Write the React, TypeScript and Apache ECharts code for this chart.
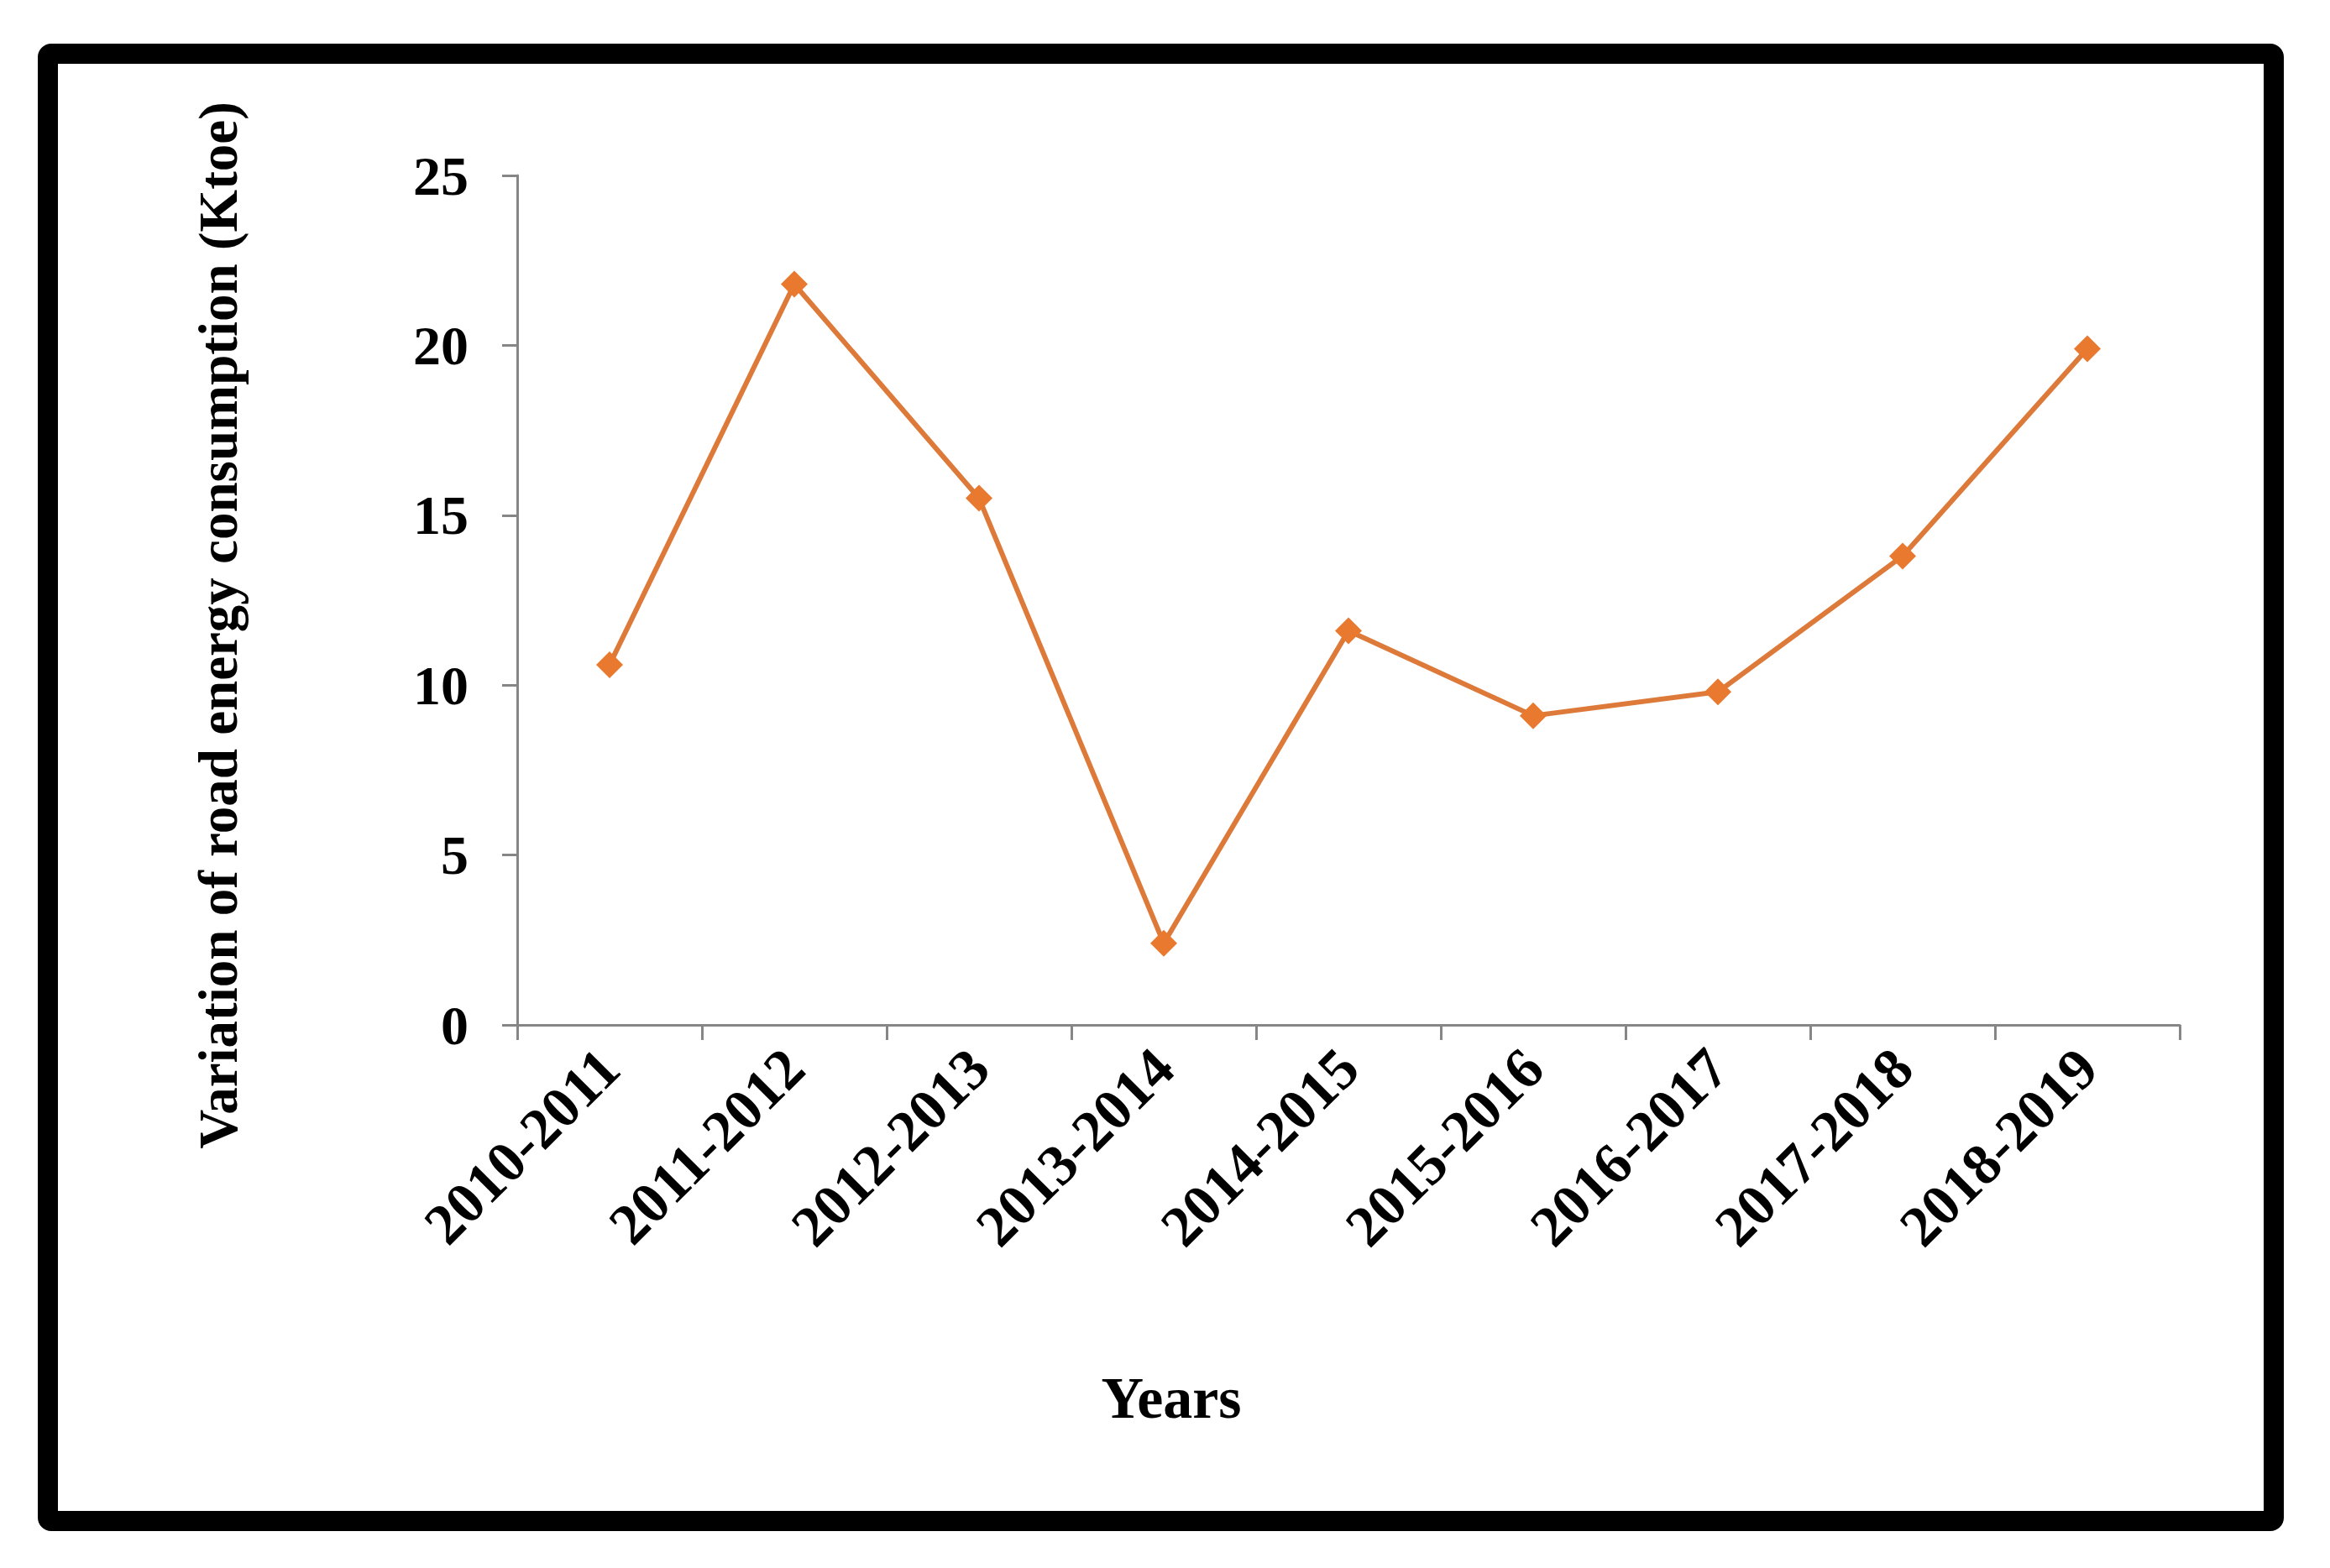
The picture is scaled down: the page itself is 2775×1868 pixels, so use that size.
import React, { useEffect, useRef } from "react";
import * as echarts from "echarts";

const categories = [
  "2010-2011",
  "2011-2012",
  "2012-2013",
  "2013-2014",
  "2014-2015",
  "2015-2016",
  "2016-2017",
  "2017-2018",
  "2018-2019",
];
const values = [10.6, 21.8, 15.5, 2.4, 11.6, 9.1, 9.8, 13.8, 19.9];
const yTitle = "Variation of road energy consumption (Ktoe)";
const xTitle = "Years";

const W = 2775;
const H = 1868;
const FONT = "'Liberation Serif', 'Times New Roman', serif";

export default function App() {
  const ref = useRef<HTMLDivElement>(null);
  useEffect(() => {
    if (!ref.current) return;
    const chart = echarts.init(ref.current, null, { renderer: "svg" });
    chart.setOption({
      animation: false,
      backgroundColor: "#ffffff",
      grid: { left: 616, right: 179, top: 209, bottom: 647, containLabel: false },
      xAxis: {
        type: "category",
        data: categories,
        boundaryGap: true,
        axisLine: { show: true, lineStyle: { color: "#868686", width: 3 } },
        axisTick: { show: true, alignWithLabel: false, length: 18, lineStyle: { color: "#868686", width: 3 } },
        axisLabel: {
          rotate: 45,
          margin: 40,
          color: "#000",
          fontFamily: FONT,
          fontWeight: "bold",
          fontSize: 69,
          interval: 0,
        },
        splitLine: { show: false },
      },
      yAxis: {
        type: "value",
        min: 0,
        max: 25,
        interval: 5,
        axisLine: { show: true, lineStyle: { color: "#868686", width: 3 } },
        axisTick: { show: true, length: 18, lineStyle: { color: "#868686", width: 3 } },
        axisLabel: {
          margin: 58,
          color: "#000",
          fontFamily: FONT,
          fontWeight: "bold",
          fontSize: 66,
        },
        splitLine: { show: false },
      },
      graphic: [
        {
          type: "rect",
          shape: { x: 57, y: 64, width: 2651, height: 1748, r: 4 },
          style: { fill: "none", stroke: "#000", lineWidth: 24 },
          silent: true,
        },
        {
          type: "text",
          x: 260,
          y: 745,
          rotation: Math.PI / 2,
          style: {
            text: yTitle,
            fill: "#000",
            font: `bold 65px ${FONT}`,
            textAlign: "center",
            textVerticalAlign: "middle",
          },
        },
        {
          type: "text",
          x: 1395,
          y: 1665,
          style: {
            text: xTitle,
            fill: "#000",
            font: `bold 70px ${FONT}`,
            textAlign: "center",
            textVerticalAlign: "middle",
          },
        },
      ],
      series: [
        {
          type: "line",
          data: values,
          symbol: "diamond",
          symbolSize: 32,
          lineStyle: { color: "#DD7A3A", width: 6 },
          itemStyle: { color: "#E8792F" },
        },
      ],
    });
    return () => chart.dispose();
  }, []);
  return (
    <div
      ref={ref}
      style={{ position: "fixed", left: 0, top: 0, width: W, height: H }}
    />
  );
}
